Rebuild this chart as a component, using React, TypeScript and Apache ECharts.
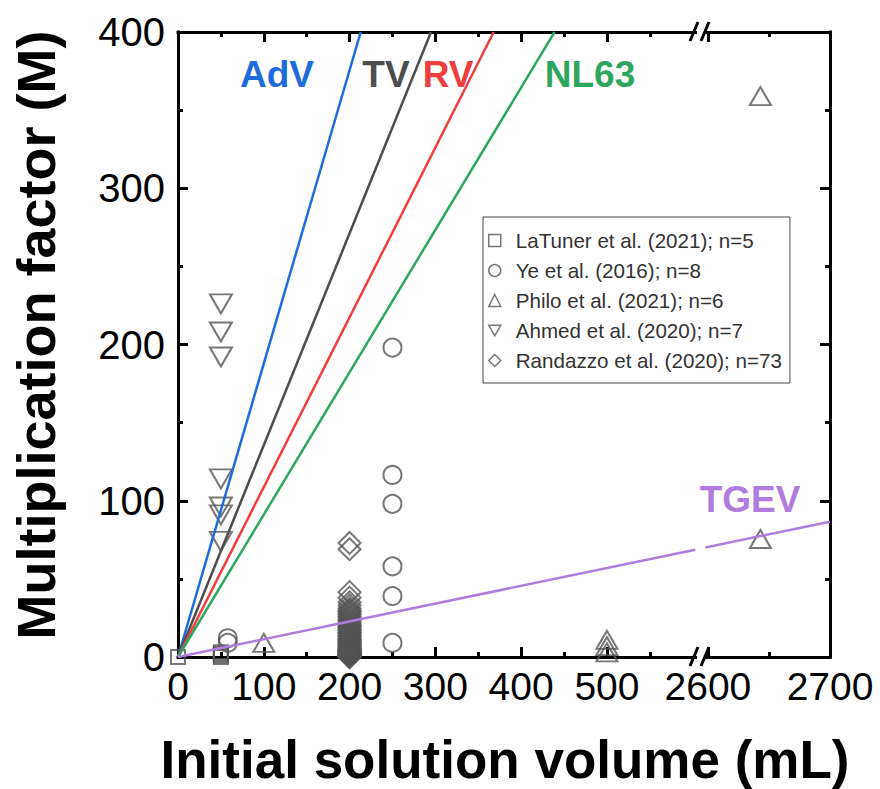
import React, { useEffect, useRef } from 'react';
import * as echarts from 'echarts';

// ---------- axis ticks ----------
const yMin = 0;
const yMax = 400;
const yInterval = 100;
const xLeftMin = 0;
const xLeftMax = 612;
const xRightMin = 2596;
const xRightMax = 2700;
const xTicksLeft = [0, 100, 200, 300, 400, 500];
const xMinorLeft = [50, 150, 250, 350, 450, 550];
const xTicksRight = [2600, 2700];
const xMinorRight = [2650];

// ---------- data ----------
const names = [
  'LaTuner et al. (2021); n=5',
  'Ye et al. (2016); n=8',
  'Philo et al. (2021); n=6',
  'Ahmed et al. (2020); n=7',
  'Randazzo et al. (2020); n=73',
];

const latunerX = [0, 50, 50, 50, 50];
const latunerY = [0, 0, 1, 2, 3];

const yeX = [58, 58, 250, 250, 250, 250, 250, 250];
const yeY = [9, 12, 198, 116.5, 98, 58, 39, 9];

const philoX = [100, 500, 500, 500, 2643, 2643];
const philoY = [9, 11, 7, 3, 359, 75.5];

const ahmedX = [50, 50, 50, 50, 50, 50, 50];
const ahmedY = [226, 208, 192, 114, 96, 91, 74];

const randazzoVolume = 200;
const randazzoY = [
  73, 69, 41.5, 38, 35, 33, 31, 30, 29, 28, 27, 26, 25, 24, 23, 22, 21, 20, 19.5, 19,
  18, 17.5, 17, 16, 15.5, 15, 14, 13.5, 13, 12, 11.5, 11, 10.5, 10, 9.5, 9, 8.5, 8, 7.5, 7,
  6.5, 6, 5.5, 5, 4.8, 4.5, 4.2, 4, 3.8, 3.5, 3.2, 3, 2.8, 2.5, 2.2, 2, 1.8, 1.6, 1.5, 1.3,
  1.2, 1.1, 1, 0.9, 0.8, 0.7, 0.6, 0.5, 0.4, 0.3, 0.2, 0.1, 0,
];

// fitted lines: volume (mL) at which M reaches 400
const lineNames = ['AdV', 'TV', 'RV', 'NL63'];
const lineEndVolume = [213, 295, 368, 439];
const lineColors = ['#1f6ddc', '#4d4d4d', '#ef3e3e', '#2fa660'];
const tgevColor = '#b07ddf';
const tgevLeft = [[0, 0], [603, 68.7]];
const tgevRight = [[2598, 70.1], [2700, 86.6]];

const markerColor = '#555555';
const FONT = '"Liberation Sans", Arial, sans-serif';

function split(xs: number[], ys: number[]) {
  const left: number[][] = [];
  const right: number[][] = [];
  xs.forEach((x, i) => {
    if (x <= xLeftMax) left.push([x, ys[i]]);
    else right.push([x, ys[i]]);
  });
  return { left, right };
}

const datasets = [
  { name: names[0], xs: latunerX, ys: latunerY, symbol: 'rect', size: [14, 14] },
  { name: names[1], xs: yeX, ys: yeY, symbol: 'circle', size: [18, 18] },
  { name: names[2], xs: philoX, ys: philoY, symbol: 'triangle', size: [21, 18] },
  { name: names[3], xs: ahmedX, ys: ahmedY, symbol: 'path://M0,0L2,0L1,1.732Z', size: [22, 19] },
  {
    name: names[4],
    xs: randazzoY.map(() => randazzoVolume),
    ys: randazzoY,
    symbol: 'diamond',
    size: [22, 22],
  },
];

function buildOption() {
  const tickStyle = { color: '#000', width: 3 };
  const lineStyle = { color: '#000', width: 3, cap: 'square' };
  const plain = (v: number) => String(Math.round(v));

  const xAxisFor = (gridIndex: number, min: number, max: number, majors: number[], minors: number[]) => [
    {
      type: 'value', gridIndex, position: 'bottom', min, max,
      axisLine: { show: true, onZero: false, lineStyle },
      splitLine: { show: false },
      axisTick: { show: true, inside: true, length: 10, customValues: majors, lineStyle: tickStyle },
      axisLabel: {
        show: true, customValues: majors, fontSize: 39, fontFamily: FONT, color: '#000', margin: 10,
        hideOverlap: false, formatter: plain,
      },
    },
    {
      type: 'value', gridIndex, position: 'bottom', min, max,
      axisLine: { show: false, onZero: false },
      splitLine: { show: false },
      axisTick: { show: true, inside: true, length: 5, customValues: minors, lineStyle: tickStyle },
      axisLabel: { show: false },
    },
    {
      type: 'value', gridIndex, position: 'top', min, max,
      axisLine: { show: true, onZero: false, lineStyle },
      splitLine: { show: false },
      axisTick: { show: true, inside: true, length: 10, customValues: majors, lineStyle: tickStyle },
      axisLabel: { show: false },
    },
    {
      type: 'value', gridIndex, position: 'top', min, max,
      axisLine: { show: false, onZero: false },
      splitLine: { show: false },
      axisTick: { show: true, inside: true, length: 5, customValues: minors, lineStyle: tickStyle },
      axisLabel: { show: false },
    },
  ];

  const yAxisFor = (gridIndex: number, position: string, showLabel: boolean) => ({
    type: 'value', gridIndex, position, min: yMin, max: yMax, interval: yInterval,
    axisLine: { show: true, onZero: false, lineStyle },
    splitLine: { show: false },
    axisTick: { show: true, inside: true, length: 10, lineStyle: tickStyle },
    minorTick: { show: true, splitNumber: 2, length: 5, lineStyle: tickStyle },
    axisLabel: { show: showLabel, fontSize: 40, fontFamily: FONT, color: '#000', margin: 13, formatter: plain },
  });

  const series: any[] = [];
  datasets.forEach((d) => {
    const { left, right } = split(d.xs, d.ys);
    const base = {
      type: 'scatter',
      name: d.name,
      symbol: d.symbol,
      symbolSize: d.size,
      itemStyle: { color: 'rgba(0,0,0,0)', borderColor: markerColor, borderWidth: 2 },
      emphasis: { disabled: true },
      z: 2,
    };
    series.push({ ...base, xAxisIndex: 0, yAxisIndex: 0, data: left });
    if (right.length) series.push({ ...base, xAxisIndex: 4, yAxisIndex: 1, data: right });
  });

  lineNames.forEach((n, i) => {
    series.push({
      type: 'line', name: n, xAxisIndex: 0, yAxisIndex: 0,
      data: [[0, 0], [lineEndVolume[i], yMax]],
      showSymbol: false, symbol: 'none',
      lineStyle: { color: lineColors[i], width: 2.5 },
      z: 3,
    });
  });
  series.push({
    type: 'line', name: 'TGEV', xAxisIndex: 0, yAxisIndex: 0, data: tgevLeft,
    showSymbol: false, symbol: 'none', lineStyle: { color: tgevColor, width: 2.5 }, z: 3,
  });
  series.push({
    type: 'line', name: 'TGEV', xAxisIndex: 4, yAxisIndex: 1, data: tgevRight,
    showSymbol: false, symbol: 'none', lineStyle: { color: tgevColor, width: 2.5 }, z: 3,
  });

  const labelText = (text: string, x: number, y: number, color: string) => ({
    type: 'text', x, y, z: 100,
    style: {
      text, fill: color, fontSize: 37, fontWeight: 'bold', fontFamily: FONT,
      align: 'center', verticalAlign: 'middle',
    },
  });

  const breakMark = (cy: number) => [
    { type: 'rect', z: 100, shape: { x: 697, y: cy - 5, width: 7, height: 10 }, style: { fill: '#fff' } },
    { type: 'line', z: 101, shape: { x1: 690, y1: cy + 9, x2: 698, y2: cy - 10 }, style: { stroke: '#000', lineWidth: 3 } },
    { type: 'line', z: 101, shape: { x1: 701, y1: cy + 9, x2: 709, y2: cy - 10 }, style: { stroke: '#000', lineWidth: 3 } },
  ];

  return {
    animation: false,
    backgroundColor: '#fff',
    grid: [
      { left: 178, top: 32, width: 525, height: 625, containLabel: false, outerBoundsMode: 'none' },
      { left: 703, top: 32, width: 127, height: 625, containLabel: false, outerBoundsMode: 'none' },
    ],
    xAxis: [
      ...xAxisFor(0, xLeftMin, xLeftMax, xTicksLeft, xMinorLeft),
      ...xAxisFor(1, xRightMin, xRightMax, xTicksRight, xMinorRight),
    ],
    yAxis: [yAxisFor(0, 'left', true), yAxisFor(1, 'right', false)],
    legend: {
      data: names,
      orient: 'vertical',
      left: 483,
      top: 217,
      padding: [13, 8, 12, 5],
      itemGap: 9,
      itemWidth: 12,
      itemHeight: 12,
      borderColor: '#444',
      borderWidth: 1,
      backgroundColor: '#fff',
      selectedMode: false,
      itemStyle: { borderWidth: 1.5 },
      textStyle: { fontSize: 20.6, fontFamily: FONT, color: '#333', lineHeight: 20, padding: [0, 0, 0, 10] },
    },
    graphic: [
      {
        type: 'text', x: 36, y: 335, rotation: Math.PI / 2, z: 100,
        style: {
          text: 'Multiplication factor (M)', fill: '#000', fontSize: 54, fontWeight: 'bold',
          fontFamily: FONT, align: 'center', verticalAlign: 'middle',
        },
      },
      {
        type: 'text', x: 505, y: 759, z: 100,
        style: {
          text: 'Initial solution volume (mL)', fill: '#000', fontSize: 53, fontWeight: 'bold',
          fontFamily: FONT, align: 'center', verticalAlign: 'middle',
        },
      },
      labelText('AdV', 277, 74, lineColors[0]),
      labelText('TV', 386, 74, lineColors[1]),
      labelText('RV', 448, 74, lineColors[2]),
      labelText('NL63', 590, 74, lineColors[3]),
      labelText('TGEV', 750, 499, tgevColor),
      ...breakMark(657),
      ...breakMark(32),
    ],
    series,
  };
}

export default function App() {
  const ref = useRef<HTMLDivElement>(null);
  useEffect(() => {
    const chart = echarts.init(ref.current!, null, { renderer: 'svg' });
    chart.setOption(buildOption() as any);
    return () => chart.dispose();
  }, []);
  return (
    <div
      ref={ref}
      style={{ position: 'fixed', left: 0, top: 0, width: 880, height: 789, background: '#fff' }}
    />
  );
}
